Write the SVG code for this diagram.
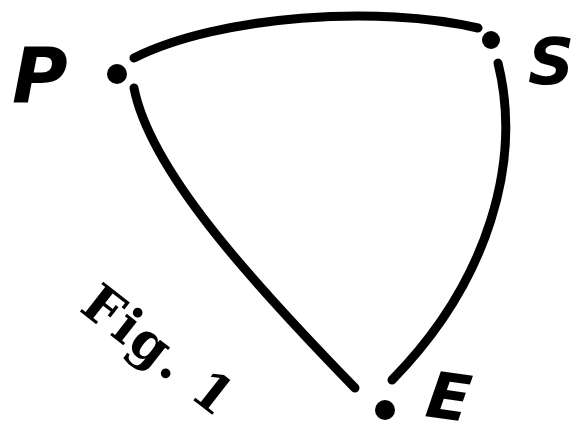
<svg xmlns="http://www.w3.org/2000/svg" width="576" height="445" viewBox="0 0 576 445">
  <style>
    .edge { fill: none; stroke: #000; stroke-width: 9; stroke-linecap: round; }
    .dot { fill: #000; }
    .lbl { font-family: "DejaVu Sans", "Liberation Sans", sans-serif; font-weight: bold; font-style: italic; fill: #000; }
    .fig { font-family: "DejaVu Serif", "Liberation Serif", serif; font-weight: bold; fill: #000; }
  </style>
  <rect width="576" height="445" fill="#fff"/>
  <g id="connectors">
    <path class="edge" d="M134,58 C220,15 380,5 478,28"/>
    <path class="edge" d="M134,88 C150,170 250,280 355,388"/>
    <path class="edge" d="M498,63 C522,160 490,280 392,380"/>
  </g>
  <g id="node-P">
    <circle class="dot" cx="117" cy="74" r="10"/>
    <text class="lbl" x="12" y="102" font-size="76">P</text>
  </g>
  <g id="node-S">
    <circle class="dot" cx="491" cy="40" r="9"/>
    <text class="lbl" x="528" y="84" font-size="64">S</text>
  </g>
  <g id="node-E">
    <circle class="dot" cx="385" cy="410" r="10"/>
    <text class="lbl" font-size="64" transform="translate(424,416) rotate(8)">E</text>
  </g>
  <g id="caption">
    <text class="fig" font-size="52" letter-spacing="2" transform="translate(78,310) rotate(38)">Fig. 1</text>
  </g>
</svg>
